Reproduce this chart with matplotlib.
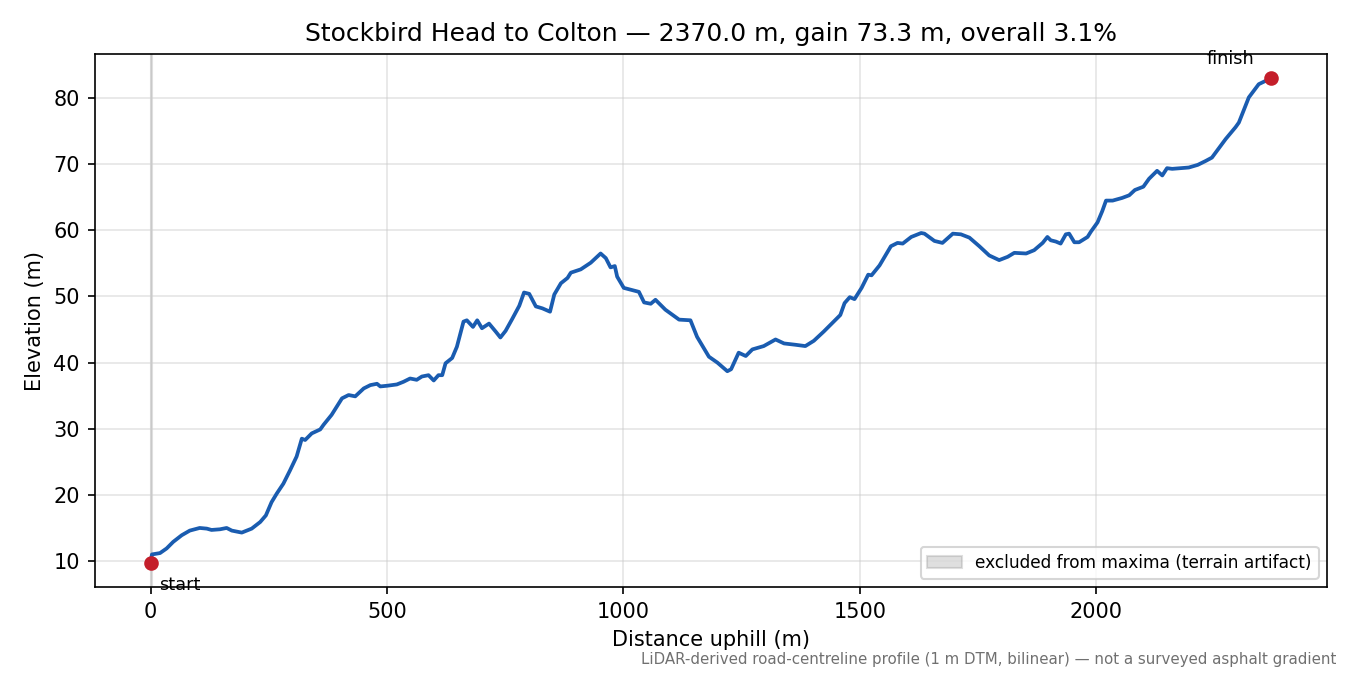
import numpy as np
import matplotlib
matplotlib.use("Agg")
import matplotlib.pyplot as plt

# profile (distance uphill in m, elevation in m)
dist = [0, 3, 20, 34, 48, 66, 83, 104, 119, 129, 147, 161, 172, 193, 214, 232, 244, 256,
        267, 281, 295, 309, 320, 327, 341, 359, 366, 383, 405, 419, 433, 451, 465, 479,
        486, 500, 521, 535, 549, 563, 574, 588, 599, 609, 617, 624, 638, 648, 662, 669,
        682, 691, 701, 716, 730, 740, 751, 765, 780, 790, 801, 815, 829, 845, 854, 868,
        882, 889, 910, 931, 952, 963, 973, 982, 987, 1001, 1033, 1044, 1058, 1068, 1089,
        1118, 1142, 1156, 1181, 1199, 1220, 1228, 1244, 1259, 1273, 1297, 1322, 1340,
        1364, 1385, 1403, 1424, 1445, 1459, 1468, 1479, 1489, 1504, 1518, 1525, 1542,
        1566, 1580, 1591, 1609, 1630, 1637, 1658, 1675, 1697, 1714, 1732, 1753, 1774,
        1795, 1813, 1827, 1852, 1869, 1887, 1897, 1904, 1915, 1925, 1936, 1943, 1954,
        1964, 1982, 1989, 2003, 2013, 2021, 2035, 2055, 2070, 2082, 2100, 2112, 2129,
        2140, 2150, 2161, 2196, 2215, 2232, 2245, 2274, 2295, 2302, 2323, 2344, 2370]
elev = [9.7, 11.0, 11.2, 11.9, 12.9, 13.9, 14.6, 15.0, 14.9, 14.7, 14.8, 15.0, 14.6, 14.3,
        14.9, 15.9, 16.9, 18.9, 20.2, 21.7, 23.7, 25.8, 28.5, 28.3, 29.3, 29.9, 30.6, 32.1,
        34.6, 35.1, 34.9, 36.1, 36.6, 36.8, 36.4, 36.5, 36.7, 37.1, 37.6, 37.4, 37.9, 38.1,
        37.3, 38.1, 38.1, 39.9, 40.7, 42.4, 46.2, 46.4, 45.4, 46.4, 45.2, 45.9, 44.7, 43.8,
        44.8, 46.6, 48.6, 50.6, 50.4, 48.5, 48.2, 47.7, 50.3, 52.0, 52.8, 53.6, 54.1, 55.1,
        56.5, 55.8, 54.4, 54.6, 53.0, 51.3, 50.7, 49.1, 48.9, 49.5, 48.0, 46.5, 46.4, 43.9,
        40.9, 40.0, 38.7, 39.0, 41.5, 41.0, 42.0, 42.5, 43.5, 42.9, 42.7, 42.5, 43.3, 44.7,
        46.2, 47.2, 49.0, 49.9, 49.6, 51.3, 53.3, 53.2, 54.7, 57.6, 58.1, 58.0, 59.0, 59.6,
        59.5, 58.4, 58.1, 59.5, 59.4, 58.9, 57.6, 56.2, 55.5, 56.0, 56.6, 56.5, 57.0, 58.1,
        59.0, 58.5, 58.3, 58.0, 59.4, 59.5, 58.2, 58.2, 59.0, 59.8, 61.2, 62.9, 64.5, 64.5,
        64.9, 65.3, 66.1, 66.6, 67.8, 69.0, 68.3, 69.4, 69.3, 69.5, 69.9, 70.5, 71.0, 73.8,
        75.6, 76.3, 80.1, 82.1, 83.0]

excluded = (0, 4)  # span dropped from maxima
name = "Stockbird Head to Colton"

dist = np.array(dist)
elev = np.array(elev)
total = dist[-1] - dist[0]
gain = elev[-1] - elev[0]

fig, ax = plt.subplots(figsize=(9, 4.5), dpi=150)
fig.subplots_adjust(left=0.07, right=0.983, top=0.92, bottom=0.13)

# gray band, edge drawn in same colour so it shows darker borders
ax.axvspan(excluded[0], excluded[1], color="gray", alpha=0.25, lw=1,
           label="excluded from maxima (terrain artifact)")
ax.plot(dist, elev, color="#1a5cb0", lw=1.8)
ax.plot([dist[0], dist[-1]], [elev[0], elev[-1]], "o", color="#c41e2a", ms=6, zorder=5)
ax.annotate("start", (dist[0], elev[0]), xytext=(4, -6), textcoords="offset points",
            ha="left", va="top", fontsize=8.5)
ax.annotate("finish", (dist[-1], elev[-1]), xytext=(-8, 5), textcoords="offset points",
            ha="right", va="bottom", fontsize=8.5)

ax.grid(True, color="#cccccc", alpha=0.5, lw=0.8)
ax.set_xlabel("Distance uphill (m)")
ax.set_ylabel("Elevation (m)")
ax.set_title(f"{name} \u2014 {total:.1f} m, gain {gain:.1f} m, overall {100*gain/total:.1f}%",
             fontsize=12)
ax.legend(loc="lower right", fontsize=8.2)
fig.text(0.99, 0.012, "LiDAR-derived road-centreline profile (1 m DTM, bilinear) \u2014 not a surveyed asphalt gradient",
         ha="right", va="bottom", fontsize=7.2, color="#707070")

fig.savefig("out.png")
